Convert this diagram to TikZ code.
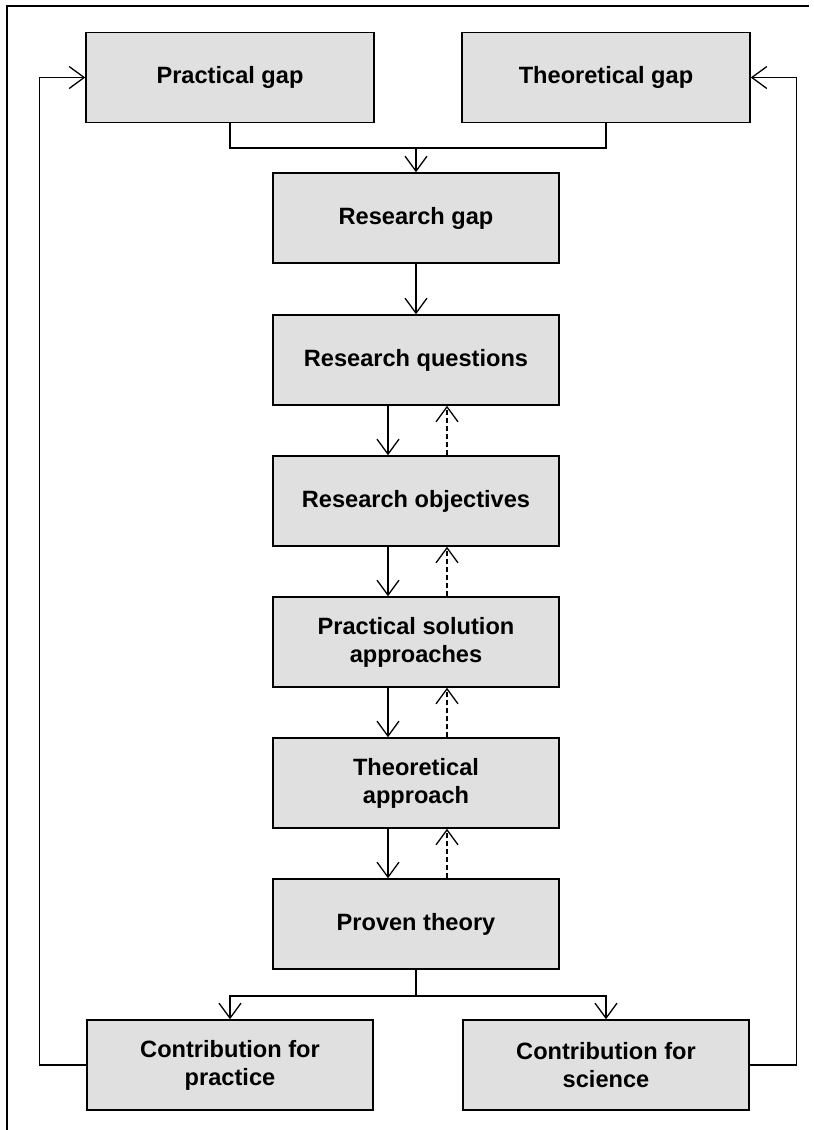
\documentclass[tikz,border=0pt]{standalone}
\usepackage{fontspec}
\setmainfont{Liberation Sans}
\usepackage{xcolor}
\definecolor{boxgrey}{HTML}{E0E0E0}
\usepackage{tikz}
\usetikzlibrary{arrows.meta,positioning,calc}
\tikzset{
  >={Straight Barb[length=7.5pt,width=11pt,line width=0.65pt]},
  stage/.style  ={draw=black,fill=boxgrey,line width=0.75pt,
                  font=\fontsize{11.8}{14}\selectfont\bfseries,
                  minimum width=143pt,minimum height=45pt,align=center},
  link/.style   ={draw=black,line width=0.65pt},
  flow/.style   ={->,link},
  back/.style   ={->,link,dash pattern=on 2.5pt off 1.5pt},
}
\begin{document}
\begin{tikzpicture}[x=0.5pt,y=-0.5pt]
\useasboundingbox (0,0) rectangle (814,1130);
%---------------- frame
\draw[line width=1pt] (7,1140) -- (7,6) -- (809,6);
%---------------- gaps
\node[stage,minimum width=144pt] (pgap) at (230,77.5) {Practical gap};
\node[stage,minimum width=144pt] (tgap) at (606,77.5) {Theoretical gap};
\node[stage] (rgap) at (416,218) {Research gap};
%---------------- main chain
\node[stage] (rq)  at (416,360) {Research questions};
\node[stage] (ro)  at (416,501) {Research objectives};
\node[stage] (psa) at (416,642) {Practical solution\\approaches};
\node[stage] (ta)  at (416,783) {Theoretical\\approach};
\node[stage] (pt)  at (416,924) {Proven theory};
%---------------- contributions
\node[stage] (cp) at (230,1065) {Contribution for\\practice};
\node[stage] (cs) at (606,1065) {Contribution for\\science};
%---------------- connectors
\coordinate (merge) at (416,148);
\coordinate (split) at (416,996);
\draw[link] (pgap.south) |- (merge) -| (tgap.south);
\draw[flow,line width=0.9pt] (merge) -- (rgap.north);
\draw[flow] (rgap.south) -- (rq.north);
\foreach \a/\b in {rq/ro,ro/psa,psa/ta,ta/pt}{
  \draw[flow] ([xshift=-14pt]\a.south) -- ([xshift=-14pt]\b.north);
  \draw[back] ([xshift=15.5pt]\b.north) -- ([xshift=15.5pt]\a.south);
}
\draw[link,line width=0.9pt] (pt.south) -- (split);
\draw[flow] (split) -| (cp.north);
\draw[flow] (split) -| (cs.north);
%---------------- feedback
\draw[flow] (cp.west) -- ++(-47,0) |- (pgap.west);
\draw[flow] (cs.east) -- ++(47,0) |- (tgap.east);
\end{tikzpicture}
\end{document}
